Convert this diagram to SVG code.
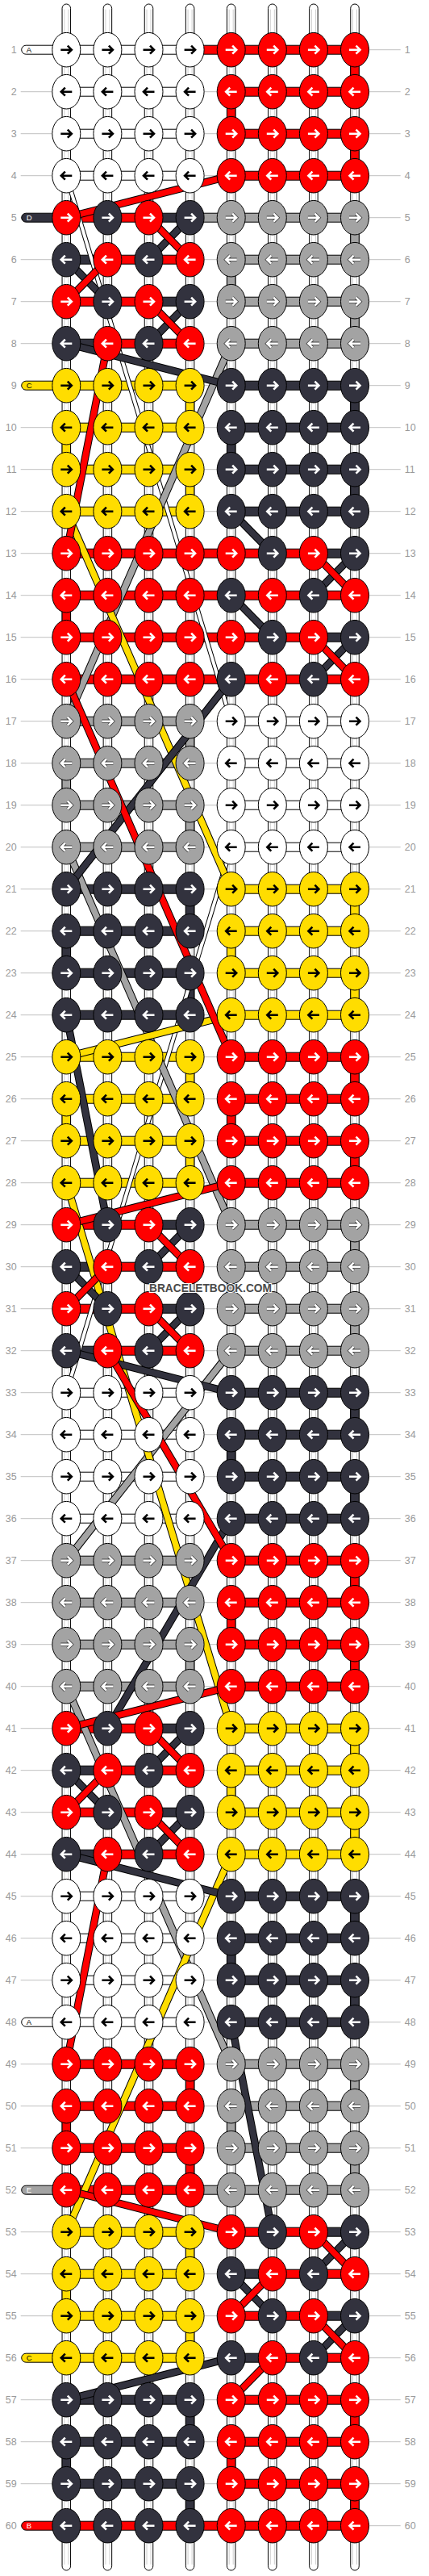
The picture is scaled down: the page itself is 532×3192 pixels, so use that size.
<svg xmlns="http://www.w3.org/2000/svg" xmlns:xlink="http://www.w3.org/1999/xlink" width="532" height="3192" viewBox="0 0 532 3192">
<style>
.o{stroke:#000;stroke-width:1}
.ab{fill:none;stroke:#000;stroke-width:2.6}
.aw{fill:none;stroke:#fff;stroke-width:2.6}
.ao{fill:none;stroke:#444;stroke-width:4.2}
.fR{fill:#f00}.fD{fill:#32323e}.fG{fill:#a3a3a3}.fY{fill:#fd0}.fW{fill:#fff}
.bk{fill:none;stroke:#000;stroke-width:9.5}
.bw{fill:none;stroke:#000;stroke-width:6}
.sR{fill:none;stroke:#f00;stroke-width:7.5}
.sD{fill:none;stroke:#32323e;stroke-width:7.5}
.sG{fill:none;stroke:#a3a3a3;stroke-width:7.5}
.sY{fill:none;stroke:#fd0;stroke-width:7.5}
.sW{fill:none;stroke:#fff;stroke-width:4}
.gl{fill:none;stroke:#c0c0c0;stroke-width:1}
.num{font-family:"Liberation Sans",Arial,sans-serif;font-size:12.5px;fill:#9a9a9a}
.nl{text-anchor:end}
.lt{font-family:"Liberation Sans",Arial,sans-serif;font-size:9.5px}
</style>
<defs>
<g id="vs"><rect x="-5.25" y="-4.7" width="10.5" height="3180" rx="5.25" fill="#fff" stroke="#000"/><path d="M-2.5 2V3168M2.5 2V3168" stroke="#cfcfcf" stroke-width="1"/></g>
<path id="ar" d="M-7 0H6M1.5-5 6.5 0 1.5 5"/>
<path id="al" d="M7 0H-6M-1.5-5-6.5 0-1.5 5"/>
<g id="W1"><ellipse class="o fW" rx="17.5" ry="21.3"/><use href="#ar" class="ab"/></g>
<g id="W2"><ellipse class="o fW" rx="17.5" ry="21.3"/><use href="#al" class="ab"/></g>
<g id="Y1"><ellipse class="o fY" rx="17.5" ry="21.3"/><use href="#ar" class="ab"/></g>
<g id="Y2"><ellipse class="o fY" rx="17.5" ry="21.3"/><use href="#al" class="ab"/></g>
<g id="R1"><ellipse class="o fR" rx="17.5" ry="21.3"/><use href="#ar" class="aw"/></g>
<g id="R2"><ellipse class="o fR" rx="17.5" ry="21.3"/><use href="#al" class="aw"/></g>
<g id="D1"><ellipse class="o fD" rx="17.5" ry="21.3"/><use href="#ar" class="aw"/></g>
<g id="D2"><ellipse class="o fD" rx="17.5" ry="21.3"/><use href="#al" class="aw"/></g>
<g id="G1"><ellipse class="o fG" rx="17.5" ry="21.3"/><use href="#ar" class="ao"/><use href="#ar" class="aw"/></g>
<g id="G2"><ellipse class="o fG" rx="17.5" ry="21.3"/><use href="#al" class="ao"/><use href="#al" class="aw"/></g>
<g id="pW"><path d="M51.1 208L255.5 884M255.5 1040L51.1 1716"/></g>
<g id="pG"><path d="M255.5 416L51.1 884M51.1 1040L255.5 1508M255.5 1664L51.1 1924M51.1 2080L255.5 2548"/></g>
<g id="pY"><path d="M51.1 624L255.5 1092M255.5 1248L51.1 1300M51.1 1456L255.5 2132M255.5 2288L51.1 2756"/></g>
<g id="pD"><path d="M51.1 416L255.5 468M255.5 624L306.6 676M255.5 832L51.1 1092M51.1 1248L102.2 1508M51.1 1664L255.5 1716M255.5 1872L102.2 2132M51.1 2288L255.5 2340M255.5 2496L306.6 2756M255.5 2912L51.1 2964M204.4 260L153.3 312M51.1 312L102.2 364M204.4 364L153.3 416M408.8 676L357.7 728M255.5 728L306.6 780M408.8 780L357.7 832M204.4 1508L153.3 1560M51.1 1560L102.2 1612M204.4 1612L153.3 1664M204.4 2132L153.3 2184M51.1 2184L102.2 2236M204.4 2236L153.3 2288M408.8 2756L357.7 2808M255.5 2808L306.6 2860M408.8 2860L357.7 2912"/></g>
<g id="pR"><path d="M255.5 208L51.1 260M102.2 416L51.1 676M51.1 832L255.5 1300M255.5 1456L51.1 1508M102.2 1664L255.5 1924M255.5 2080L51.1 2132M102.2 2288L51.1 2548M51.1 2704L255.5 2756M306.6 2912L255.5 2964M153.3 260L204.4 312M102.2 312L51.1 364M153.3 364L204.4 416M357.7 676L408.8 728M357.7 780L408.8 832M153.3 1508L204.4 1560M102.2 1560L51.1 1612M153.3 1612L204.4 1664M153.3 2132L204.4 2184M102.2 2184L51.1 2236M153.3 2236L204.4 2288M357.7 2756L408.8 2808M306.6 2808L255.5 2860M357.7 2860L408.8 2912"/></g>
</defs>
<rect width="532" height="3192" fill="#fff"/>
<g transform="translate(31.2,9.7)">
<path class="gl" d="M-5.5 52H465.5M-5.5 104H465.5M-5.5 156H465.5M-5.5 208H465.5M-5.5 260H465.5M-5.5 312H465.5M-5.5 364H465.5M-5.5 416H465.5M-5.5 468H465.5M-5.5 520H465.5M-5.5 572H465.5M-5.5 624H465.5M-5.5 676H465.5M-5.5 728H465.5M-5.5 780H465.5M-5.5 832H465.5M-5.5 884H465.5M-5.5 936H465.5M-5.5 988H465.5M-5.5 1040H465.5M-5.5 1092H465.5M-5.5 1144H465.5M-5.5 1196H465.5M-5.5 1248H465.5M-5.5 1300H465.5M-5.5 1352H465.5M-5.5 1404H465.5M-5.5 1456H465.5M-5.5 1508H465.5M-5.5 1560H465.5M-5.5 1612H465.5M-5.5 1664H465.5M-5.5 1716H465.5M-5.5 1768H465.5M-5.5 1820H465.5M-5.5 1872H465.5M-5.5 1924H465.5M-5.5 1976H465.5M-5.5 2028H465.5M-5.5 2080H465.5M-5.5 2132H465.5M-5.5 2184H465.5M-5.5 2236H465.5M-5.5 2288H465.5M-5.5 2340H465.5M-5.5 2392H465.5M-5.5 2444H465.5M-5.5 2496H465.5M-5.5 2548H465.5M-5.5 2600H465.5M-5.5 2652H465.5M-5.5 2704H465.5M-5.5 2756H465.5M-5.5 2808H465.5M-5.5 2860H465.5M-5.5 2912H465.5M-5.5 2964H465.5M-5.5 3016H465.5M-5.5 3068H465.5M-5.5 3120H465.5"/>
<g id="numbers" class="num">
<text class="nl" x="-10.5" y="56.6">1</text><text x="470.5" y="56.6">1</text>
<text class="nl" x="-10.5" y="108.6">2</text><text x="470.5" y="108.6">2</text>
<text class="nl" x="-10.5" y="160.6">3</text><text x="470.5" y="160.6">3</text>
<text class="nl" x="-10.5" y="212.6">4</text><text x="470.5" y="212.6">4</text>
<text class="nl" x="-10.5" y="264.6">5</text><text x="470.5" y="264.6">5</text>
<text class="nl" x="-10.5" y="316.6">6</text><text x="470.5" y="316.6">6</text>
<text class="nl" x="-10.5" y="368.6">7</text><text x="470.5" y="368.6">7</text>
<text class="nl" x="-10.5" y="420.6">8</text><text x="470.5" y="420.6">8</text>
<text class="nl" x="-10.5" y="472.6">9</text><text x="470.5" y="472.6">9</text>
<text class="nl" x="-10.5" y="524.6">10</text><text x="470.5" y="524.6">10</text>
<text class="nl" x="-10.5" y="576.6">11</text><text x="470.5" y="576.6">11</text>
<text class="nl" x="-10.5" y="628.6">12</text><text x="470.5" y="628.6">12</text>
<text class="nl" x="-10.5" y="680.6">13</text><text x="470.5" y="680.6">13</text>
<text class="nl" x="-10.5" y="732.6">14</text><text x="470.5" y="732.6">14</text>
<text class="nl" x="-10.5" y="784.6">15</text><text x="470.5" y="784.6">15</text>
<text class="nl" x="-10.5" y="836.6">16</text><text x="470.5" y="836.6">16</text>
<text class="nl" x="-10.5" y="888.6">17</text><text x="470.5" y="888.6">17</text>
<text class="nl" x="-10.5" y="940.6">18</text><text x="470.5" y="940.6">18</text>
<text class="nl" x="-10.5" y="992.6">19</text><text x="470.5" y="992.6">19</text>
<text class="nl" x="-10.5" y="1044.6">20</text><text x="470.5" y="1044.6">20</text>
<text class="nl" x="-10.5" y="1096.6">21</text><text x="470.5" y="1096.6">21</text>
<text class="nl" x="-10.5" y="1148.6">22</text><text x="470.5" y="1148.6">22</text>
<text class="nl" x="-10.5" y="1200.6">23</text><text x="470.5" y="1200.6">23</text>
<text class="nl" x="-10.5" y="1252.6">24</text><text x="470.5" y="1252.6">24</text>
<text class="nl" x="-10.5" y="1304.6">25</text><text x="470.5" y="1304.6">25</text>
<text class="nl" x="-10.5" y="1356.6">26</text><text x="470.5" y="1356.6">26</text>
<text class="nl" x="-10.5" y="1408.6">27</text><text x="470.5" y="1408.6">27</text>
<text class="nl" x="-10.5" y="1460.6">28</text><text x="470.5" y="1460.6">28</text>
<text class="nl" x="-10.5" y="1512.6">29</text><text x="470.5" y="1512.6">29</text>
<text class="nl" x="-10.5" y="1564.6">30</text><text x="470.5" y="1564.6">30</text>
<text class="nl" x="-10.5" y="1616.6">31</text><text x="470.5" y="1616.6">31</text>
<text class="nl" x="-10.5" y="1668.6">32</text><text x="470.5" y="1668.6">32</text>
<text class="nl" x="-10.5" y="1720.6">33</text><text x="470.5" y="1720.6">33</text>
<text class="nl" x="-10.5" y="1772.6">34</text><text x="470.5" y="1772.6">34</text>
<text class="nl" x="-10.5" y="1824.6">35</text><text x="470.5" y="1824.6">35</text>
<text class="nl" x="-10.5" y="1876.6">36</text><text x="470.5" y="1876.6">36</text>
<text class="nl" x="-10.5" y="1928.6">37</text><text x="470.5" y="1928.6">37</text>
<text class="nl" x="-10.5" y="1980.6">38</text><text x="470.5" y="1980.6">38</text>
<text class="nl" x="-10.5" y="2032.6">39</text><text x="470.5" y="2032.6">39</text>
<text class="nl" x="-10.5" y="2084.6">40</text><text x="470.5" y="2084.6">40</text>
<text class="nl" x="-10.5" y="2136.6">41</text><text x="470.5" y="2136.6">41</text>
<text class="nl" x="-10.5" y="2188.6">42</text><text x="470.5" y="2188.6">42</text>
<text class="nl" x="-10.5" y="2240.6">43</text><text x="470.5" y="2240.6">43</text>
<text class="nl" x="-10.5" y="2292.6">44</text><text x="470.5" y="2292.6">44</text>
<text class="nl" x="-10.5" y="2344.6">45</text><text x="470.5" y="2344.6">45</text>
<text class="nl" x="-10.5" y="2396.6">46</text><text x="470.5" y="2396.6">46</text>
<text class="nl" x="-10.5" y="2448.6">47</text><text x="470.5" y="2448.6">47</text>
<text class="nl" x="-10.5" y="2500.6">48</text><text x="470.5" y="2500.6">48</text>
<text class="nl" x="-10.5" y="2552.6">49</text><text x="470.5" y="2552.6">49</text>
<text class="nl" x="-10.5" y="2604.6">50</text><text x="470.5" y="2604.6">50</text>
<text class="nl" x="-10.5" y="2656.6">51</text><text x="470.5" y="2656.6">51</text>
<text class="nl" x="-10.5" y="2708.6">52</text><text x="470.5" y="2708.6">52</text>
<text class="nl" x="-10.5" y="2760.6">53</text><text x="470.5" y="2760.6">53</text>
<text class="nl" x="-10.5" y="2812.6">54</text><text x="470.5" y="2812.6">54</text>
<text class="nl" x="-10.5" y="2864.6">55</text><text x="470.5" y="2864.6">55</text>
<text class="nl" x="-10.5" y="2916.6">56</text><text x="470.5" y="2916.6">56</text>
<text class="nl" x="-10.5" y="2968.6">57</text><text x="470.5" y="2968.6">57</text>
<text class="nl" x="-10.5" y="3020.6">58</text><text x="470.5" y="3020.6">58</text>
<text class="nl" x="-10.5" y="3072.6">59</text><text x="470.5" y="3072.6">59</text>
<text class="nl" x="-10.5" y="3124.6">60</text><text x="470.5" y="3124.6">60</text>
</g>
<g id="connectors">
<g id="strings"><use href="#vs" x="51.1"/><use href="#vs" x="102.2"/><use href="#vs" x="153.3"/><use href="#vs" x="204.4"/><use href="#vs" x="255.5"/><use href="#vs" x="306.6"/><use href="#vs" x="357.7"/><use href="#vs" x="408.8"/></g>
<g id="vertical" class="o">
<rect class="fR" x="403.55" y="69" width="10.5" height="18"/><rect class="fR" x="250.25" y="121" width="10.5" height="18"/><rect class="fR" x="403.55" y="173" width="10.5" height="18"/>
<rect class="fG" x="403.55" y="277" width="10.5" height="18"/><rect class="fG" x="250.25" y="329" width="10.5" height="18"/><rect class="fG" x="403.55" y="381" width="10.5" height="18"/>
<rect class="fY" x="199.15" y="485" width="10.5" height="18"/><rect class="fY" x="45.85" y="537" width="10.5" height="18"/><rect class="fY" x="199.15" y="589" width="10.5" height="18"/>
<rect class="fD" x="403.55" y="485" width="10.5" height="18"/><rect class="fD" x="250.25" y="537" width="10.5" height="18"/><rect class="fD" x="403.55" y="589" width="10.5" height="18"/>
<rect class="fR" x="45.85" y="745" width="10.5" height="18"/>
<rect class="fG" x="199.15" y="901" width="10.5" height="18"/><rect class="fG" x="45.85" y="953" width="10.5" height="18"/><rect class="fG" x="199.15" y="1005" width="10.5" height="18"/>
<rect class="fD" x="199.15" y="1109" width="10.5" height="18"/><rect class="fD" x="45.85" y="1161" width="10.5" height="18"/><rect class="fD" x="199.15" y="1213" width="10.5" height="18"/>
<rect class="fY" x="403.55" y="1109" width="10.5" height="18"/><rect class="fY" x="250.25" y="1161" width="10.5" height="18"/><rect class="fY" x="403.55" y="1213" width="10.5" height="18"/>
<rect class="fY" x="199.15" y="1317" width="10.5" height="18"/><rect class="fY" x="45.85" y="1369" width="10.5" height="18"/><rect class="fY" x="199.15" y="1421" width="10.5" height="18"/>
<rect class="fR" x="403.55" y="1317" width="10.5" height="18"/><rect class="fR" x="250.25" y="1369" width="10.5" height="18"/><rect class="fR" x="403.55" y="1421" width="10.5" height="18"/>
<rect class="fG" x="403.55" y="1525" width="10.5" height="18"/><rect class="fG" x="250.25" y="1577" width="10.5" height="18"/><rect class="fG" x="403.55" y="1629" width="10.5" height="18"/>
<rect class="fD" x="403.55" y="1733" width="10.5" height="18"/><rect class="fD" x="250.25" y="1785" width="10.5" height="18"/><rect class="fD" x="403.55" y="1837" width="10.5" height="18"/>
<rect class="fG" x="199.15" y="2045" width="10.5" height="18"/>
<rect class="fR" x="403.55" y="1941" width="10.5" height="18"/><rect class="fR" x="250.25" y="1993" width="10.5" height="18"/><rect class="fR" x="403.55" y="2045" width="10.5" height="18"/>
<rect class="fY" x="403.55" y="2149" width="10.5" height="18"/><rect class="fY" x="250.25" y="2201" width="10.5" height="18"/><rect class="fY" x="403.55" y="2253" width="10.5" height="18"/>
<rect class="fD" x="403.55" y="2357" width="10.5" height="18"/><rect class="fD" x="250.25" y="2409" width="10.5" height="18"/><rect class="fD" x="403.55" y="2461" width="10.5" height="18"/>
<rect class="fR" x="199.15" y="2565" width="10.5" height="18"/><rect class="fR" x="45.85" y="2617" width="10.5" height="18"/><rect class="fR" x="199.15" y="2669" width="10.5" height="18"/>
<rect class="fG" x="403.55" y="2565" width="10.5" height="18"/><rect class="fG" x="250.25" y="2617" width="10.5" height="18"/><rect class="fG" x="403.55" y="2669" width="10.5" height="18"/>
<rect class="fY" x="199.15" y="2773" width="10.5" height="18"/><rect class="fY" x="45.85" y="2825" width="10.5" height="18"/><rect class="fY" x="199.15" y="2877" width="10.5" height="18"/>
<rect class="fD" x="199.15" y="2981" width="10.5" height="18"/><rect class="fD" x="45.85" y="3033" width="10.5" height="18"/><rect class="fD" x="199.15" y="3085" width="10.5" height="18"/>
<rect class="fR" x="403.55" y="2981" width="10.5" height="18"/><rect class="fR" x="250.25" y="3033" width="10.5" height="18"/><rect class="fR" x="403.55" y="3085" width="10.5" height="18"/>
</g>
<g id="labels" class="o">
<rect class="fW" x="-4.5" y="46.5" width="52" height="11" rx="5.5"/>
<rect class="fD" x="-4.5" y="254.5" width="52" height="11" rx="5.5"/>
<rect class="fY" x="-4.5" y="462.5" width="52" height="11" rx="5.5"/>
<rect class="fW" x="-4.5" y="2490.5" width="52" height="11" rx="5.5"/>
<rect class="fG" x="-4.5" y="2698.5" width="52" height="11" rx="5.5"/>
<rect class="fY" x="-4.5" y="2906.5" width="52" height="11" rx="5.5"/>
<rect class="fR" x="-4.5" y="3114.5" width="52" height="11" rx="5.5"/>
</g>
<g class="lt">
<text x="1.5" y="55.5">A</text>
<text x="1.5" y="263.5" fill="#fff">D</text>
<text x="1.5" y="471.5">C</text>
<text x="1.5" y="2499.5">A</text>
<text x="1.5" y="2707.5" fill="#fff">E</text>
<text x="1.5" y="2915.5">C</text>
<text x="1.5" y="3123.5" fill="#fff">B</text>
</g>
<g id="horizontal" class="o">
<rect class="fW" x="51.1" y="46.5" width="153.3" height="11"/><rect class="fR" x="204.4" y="46.5" width="204.4" height="11"/>
<rect class="fW" x="51.1" y="98.5" width="153.3" height="11"/><rect class="fR" x="255.5" y="98.5" width="153.3" height="11"/>
<rect class="fW" x="51.1" y="150.5" width="153.3" height="11"/><rect class="fR" x="255.5" y="150.5" width="153.3" height="11"/>
<rect class="fW" x="51.1" y="202.5" width="153.3" height="11"/><rect class="fR" x="255.5" y="202.5" width="153.3" height="11"/>
<rect class="fR" x="51.1" y="254.5" width="102.2" height="11"/><rect class="fD" x="153.3" y="254.5" width="51.1" height="11"/><rect class="fG" x="204.4" y="254.5" width="204.4" height="11"/>
<rect class="fD" x="51.1" y="306.5" width="51.1" height="11"/><rect class="fR" x="102.2" y="306.5" width="102.2" height="11"/><rect class="fG" x="255.5" y="306.5" width="153.3" height="11"/>
<rect class="fR" x="51.1" y="358.5" width="102.2" height="11"/><rect class="fD" x="153.3" y="358.5" width="51.1" height="11"/><rect class="fG" x="255.5" y="358.5" width="153.3" height="11"/>
<rect class="fD" x="51.1" y="410.5" width="51.1" height="11"/><rect class="fR" x="102.2" y="410.5" width="102.2" height="11"/><rect class="fG" x="255.5" y="410.5" width="153.3" height="11"/>
<rect class="fY" x="51.1" y="462.5" width="153.3" height="11"/><rect class="fD" x="255.5" y="462.5" width="153.3" height="11"/>
<rect class="fY" x="51.1" y="514.5" width="153.3" height="11"/><rect class="fD" x="255.5" y="514.5" width="153.3" height="11"/>
<rect class="fY" x="51.1" y="566.5" width="153.3" height="11"/><rect class="fD" x="255.5" y="566.5" width="153.3" height="11"/>
<rect class="fY" x="51.1" y="618.5" width="153.3" height="11"/><rect class="fD" x="255.5" y="618.5" width="153.3" height="11"/>
<rect class="fR" x="51.1" y="670.5" width="306.6" height="11"/><rect class="fD" x="357.7" y="670.5" width="51.1" height="11"/>
<rect class="fR" x="51.1" y="722.5" width="357.7" height="11"/>
<rect class="fR" x="51.1" y="774.5" width="306.6" height="11"/><rect class="fD" x="357.7" y="774.5" width="51.1" height="11"/>
<rect class="fR" x="51.1" y="826.5" width="357.7" height="11"/>
<rect class="fG" x="51.1" y="878.5" width="153.3" height="11"/><rect class="fW" x="255.5" y="878.5" width="153.3" height="11"/>
<rect class="fG" x="51.1" y="930.5" width="153.3" height="11"/><rect class="fW" x="255.5" y="930.5" width="153.3" height="11"/>
<rect class="fG" x="51.1" y="982.5" width="153.3" height="11"/><rect class="fW" x="255.5" y="982.5" width="153.3" height="11"/>
<rect class="fG" x="51.1" y="1034.5" width="153.3" height="11"/><rect class="fW" x="255.5" y="1034.5" width="153.3" height="11"/>
<rect class="fD" x="51.1" y="1086.5" width="153.3" height="11"/><rect class="fY" x="255.5" y="1086.5" width="153.3" height="11"/>
<rect class="fD" x="51.1" y="1138.5" width="153.3" height="11"/><rect class="fY" x="255.5" y="1138.5" width="153.3" height="11"/>
<rect class="fD" x="51.1" y="1190.5" width="153.3" height="11"/><rect class="fY" x="255.5" y="1190.5" width="153.3" height="11"/>
<rect class="fD" x="51.1" y="1242.5" width="153.3" height="11"/><rect class="fY" x="255.5" y="1242.5" width="153.3" height="11"/>
<rect class="fY" x="51.1" y="1294.5" width="153.3" height="11"/><rect class="fR" x="255.5" y="1294.5" width="153.3" height="11"/>
<rect class="fY" x="51.1" y="1346.5" width="153.3" height="11"/><rect class="fR" x="255.5" y="1346.5" width="153.3" height="11"/>
<rect class="fY" x="51.1" y="1398.5" width="153.3" height="11"/><rect class="fR" x="255.5" y="1398.5" width="153.3" height="11"/>
<rect class="fY" x="51.1" y="1450.5" width="153.3" height="11"/><rect class="fR" x="255.5" y="1450.5" width="153.3" height="11"/>
<rect class="fR" x="51.1" y="1502.5" width="102.2" height="11"/><rect class="fD" x="153.3" y="1502.5" width="51.1" height="11"/><rect class="fG" x="255.5" y="1502.5" width="153.3" height="11"/>
<rect class="fD" x="51.1" y="1554.5" width="51.1" height="11"/><rect class="fR" x="102.2" y="1554.5" width="102.2" height="11"/><rect class="fG" x="255.5" y="1554.5" width="153.3" height="11"/>
<rect class="fR" x="51.1" y="1606.5" width="102.2" height="11"/><rect class="fD" x="153.3" y="1606.5" width="51.1" height="11"/><rect class="fG" x="255.5" y="1606.5" width="153.3" height="11"/>
<rect class="fD" x="51.1" y="1658.5" width="51.1" height="11"/><rect class="fR" x="102.2" y="1658.5" width="102.2" height="11"/><rect class="fG" x="255.5" y="1658.5" width="153.3" height="11"/>
<rect class="fW" x="51.1" y="1710.5" width="153.3" height="11"/><rect class="fD" x="255.5" y="1710.5" width="153.3" height="11"/>
<rect class="fW" x="51.1" y="1762.5" width="153.3" height="11"/><rect class="fD" x="255.5" y="1762.5" width="153.3" height="11"/>
<rect class="fW" x="51.1" y="1814.5" width="153.3" height="11"/><rect class="fD" x="255.5" y="1814.5" width="153.3" height="11"/>
<rect class="fW" x="51.1" y="1866.5" width="153.3" height="11"/><rect class="fD" x="255.5" y="1866.5" width="153.3" height="11"/>
<rect class="fG" x="51.1" y="1918.5" width="153.3" height="11"/><rect class="fR" x="255.5" y="1918.5" width="153.3" height="11"/>
<rect class="fG" x="51.1" y="1970.5" width="153.3" height="11"/><rect class="fR" x="255.5" y="1970.5" width="153.3" height="11"/>
<rect class="fG" x="51.1" y="2022.5" width="153.3" height="11"/><rect class="fR" x="255.5" y="2022.5" width="153.3" height="11"/>
<rect class="fG" x="51.1" y="2074.5" width="153.3" height="11"/><rect class="fR" x="255.5" y="2074.5" width="153.3" height="11"/>
<rect class="fR" x="51.1" y="2126.5" width="102.2" height="11"/><rect class="fD" x="153.3" y="2126.5" width="51.1" height="11"/><rect class="fY" x="255.5" y="2126.5" width="153.3" height="11"/>
<rect class="fD" x="51.1" y="2178.5" width="51.1" height="11"/><rect class="fR" x="102.2" y="2178.5" width="102.2" height="11"/><rect class="fY" x="255.5" y="2178.5" width="153.3" height="11"/>
<rect class="fR" x="51.1" y="2230.5" width="102.2" height="11"/><rect class="fD" x="153.3" y="2230.5" width="51.1" height="11"/><rect class="fY" x="255.5" y="2230.5" width="153.3" height="11"/>
<rect class="fD" x="51.1" y="2282.5" width="51.1" height="11"/><rect class="fR" x="102.2" y="2282.5" width="102.2" height="11"/><rect class="fY" x="255.5" y="2282.5" width="153.3" height="11"/>
<rect class="fW" x="51.1" y="2334.5" width="153.3" height="11"/><rect class="fD" x="255.5" y="2334.5" width="153.3" height="11"/>
<rect class="fW" x="51.1" y="2386.5" width="153.3" height="11"/><rect class="fD" x="255.5" y="2386.5" width="153.3" height="11"/>
<rect class="fW" x="51.1" y="2438.5" width="153.3" height="11"/><rect class="fD" x="255.5" y="2438.5" width="153.3" height="11"/>
<rect class="fW" x="51.1" y="2490.5" width="153.3" height="11"/><rect class="fD" x="255.5" y="2490.5" width="153.3" height="11"/>
<rect class="fR" x="51.1" y="2542.5" width="153.3" height="11"/><rect class="fG" x="255.5" y="2542.5" width="153.3" height="11"/>
<rect class="fR" x="51.1" y="2594.5" width="153.3" height="11"/><rect class="fG" x="255.5" y="2594.5" width="153.3" height="11"/>
<rect class="fR" x="51.1" y="2646.5" width="153.3" height="11"/><rect class="fG" x="255.5" y="2646.5" width="153.3" height="11"/>
<rect class="fR" x="51.1" y="2698.5" width="153.3" height="11"/><rect class="fG" x="204.4" y="2698.5" width="204.4" height="11"/>
<rect class="fY" x="51.1" y="2750.5" width="153.3" height="11"/><rect class="fR" x="255.5" y="2750.5" width="102.2" height="11"/><rect class="fD" x="357.7" y="2750.5" width="51.1" height="11"/>
<rect class="fY" x="51.1" y="2802.5" width="153.3" height="11"/><rect class="fD" x="255.5" y="2802.5" width="51.1" height="11"/><rect class="fR" x="306.6" y="2802.5" width="102.2" height="11"/>
<rect class="fY" x="51.1" y="2854.5" width="153.3" height="11"/><rect class="fR" x="255.5" y="2854.5" width="102.2" height="11"/><rect class="fD" x="357.7" y="2854.5" width="51.1" height="11"/>
<rect class="fY" x="51.1" y="2906.5" width="153.3" height="11"/><rect class="fD" x="255.5" y="2906.5" width="51.1" height="11"/><rect class="fR" x="306.6" y="2906.5" width="102.2" height="11"/>
<rect class="fD" x="51.1" y="2958.5" width="153.3" height="11"/><rect class="fR" x="255.5" y="2958.5" width="153.3" height="11"/>
<rect class="fD" x="51.1" y="3010.5" width="153.3" height="11"/><rect class="fR" x="255.5" y="3010.5" width="153.3" height="11"/>
<rect class="fD" x="51.1" y="3062.5" width="153.3" height="11"/><rect class="fR" x="255.5" y="3062.5" width="153.3" height="11"/>
<rect class="fR" x="51.1" y="3114.5" width="357.7" height="11"/>
</g>
<g id="diagonals">
<use href="#pW" class="bw"/><use href="#pW" class="sW"/>
<use href="#pG" class="bk"/><use href="#pG" class="sG"/>
<use href="#pY" class="bk"/><use href="#pY" class="sY"/>
<use href="#pD" class="bk"/><use href="#pD" class="sD"/>
<use href="#pR" class="bk"/><use href="#pR" class="sR"/>
</g>
</g>
<g id="knots">
<g id="row1" transform="translate(0,52)"><g id="n1-1"><use href="#W1" x="51.1"/></g><g id="n1-2"><use href="#W1" x="102.2"/></g><g id="n1-3"><use href="#W1" x="153.3"/></g><g id="n1-4"><use href="#W1" x="204.4"/></g><g id="n1-5"><use href="#R1" x="255.5"/></g><g id="n1-6"><use href="#R1" x="306.6"/></g><g id="n1-7"><use href="#R1" x="357.7"/></g><g id="n1-8"><use href="#R1" x="408.8"/></g></g>
<g id="row2" transform="translate(0,104)"><g id="n2-1"><use href="#W2" x="51.1"/></g><g id="n2-2"><use href="#W2" x="102.2"/></g><g id="n2-3"><use href="#W2" x="153.3"/></g><g id="n2-4"><use href="#W2" x="204.4"/></g><g id="n2-5"><use href="#R2" x="255.5"/></g><g id="n2-6"><use href="#R2" x="306.6"/></g><g id="n2-7"><use href="#R2" x="357.7"/></g><g id="n2-8"><use href="#R2" x="408.8"/></g></g>
<g id="row3" transform="translate(0,156)"><g id="n3-1"><use href="#W1" x="51.1"/></g><g id="n3-2"><use href="#W1" x="102.2"/></g><g id="n3-3"><use href="#W1" x="153.3"/></g><g id="n3-4"><use href="#W1" x="204.4"/></g><g id="n3-5"><use href="#R1" x="255.5"/></g><g id="n3-6"><use href="#R1" x="306.6"/></g><g id="n3-7"><use href="#R1" x="357.7"/></g><g id="n3-8"><use href="#R1" x="408.8"/></g></g>
<g id="row4" transform="translate(0,208)"><g id="n4-1"><use href="#W2" x="51.1"/></g><g id="n4-2"><use href="#W2" x="102.2"/></g><g id="n4-3"><use href="#W2" x="153.3"/></g><g id="n4-4"><use href="#W2" x="204.4"/></g><g id="n4-5"><use href="#R2" x="255.5"/></g><g id="n4-6"><use href="#R2" x="306.6"/></g><g id="n4-7"><use href="#R2" x="357.7"/></g><g id="n4-8"><use href="#R2" x="408.8"/></g></g>
<g id="row5" transform="translate(0,260)"><g id="n5-1"><use href="#R1" x="51.1"/></g><g id="n5-2"><use href="#D1" x="102.2"/></g><g id="n5-3"><use href="#R1" x="153.3"/></g><g id="n5-4"><use href="#D1" x="204.4"/></g><g id="n5-5"><use href="#G1" x="255.5"/></g><g id="n5-6"><use href="#G1" x="306.6"/></g><g id="n5-7"><use href="#G1" x="357.7"/></g><g id="n5-8"><use href="#G1" x="408.8"/></g></g>
<g id="row6" transform="translate(0,312)"><g id="n6-1"><use href="#D2" x="51.1"/></g><g id="n6-2"><use href="#R2" x="102.2"/></g><g id="n6-3"><use href="#D2" x="153.3"/></g><g id="n6-4"><use href="#R2" x="204.4"/></g><g id="n6-5"><use href="#G2" x="255.5"/></g><g id="n6-6"><use href="#G2" x="306.6"/></g><g id="n6-7"><use href="#G2" x="357.7"/></g><g id="n6-8"><use href="#G2" x="408.8"/></g></g>
<g id="row7" transform="translate(0,364)"><g id="n7-1"><use href="#R1" x="51.1"/></g><g id="n7-2"><use href="#D1" x="102.2"/></g><g id="n7-3"><use href="#R1" x="153.3"/></g><g id="n7-4"><use href="#D1" x="204.4"/></g><g id="n7-5"><use href="#G1" x="255.5"/></g><g id="n7-6"><use href="#G1" x="306.6"/></g><g id="n7-7"><use href="#G1" x="357.7"/></g><g id="n7-8"><use href="#G1" x="408.8"/></g></g>
<g id="row8" transform="translate(0,416)"><g id="n8-1"><use href="#D2" x="51.1"/></g><g id="n8-2"><use href="#R2" x="102.2"/></g><g id="n8-3"><use href="#D2" x="153.3"/></g><g id="n8-4"><use href="#R2" x="204.4"/></g><g id="n8-5"><use href="#G2" x="255.5"/></g><g id="n8-6"><use href="#G2" x="306.6"/></g><g id="n8-7"><use href="#G2" x="357.7"/></g><g id="n8-8"><use href="#G2" x="408.8"/></g></g>
<g id="row9" transform="translate(0,468)"><g id="n9-1"><use href="#Y1" x="51.1"/></g><g id="n9-2"><use href="#Y1" x="102.2"/></g><g id="n9-3"><use href="#Y1" x="153.3"/></g><g id="n9-4"><use href="#Y1" x="204.4"/></g><g id="n9-5"><use href="#D1" x="255.5"/></g><g id="n9-6"><use href="#D1" x="306.6"/></g><g id="n9-7"><use href="#D1" x="357.7"/></g><g id="n9-8"><use href="#D1" x="408.8"/></g></g>
<g id="row10" transform="translate(0,520)"><g id="n10-1"><use href="#Y2" x="51.1"/></g><g id="n10-2"><use href="#Y2" x="102.2"/></g><g id="n10-3"><use href="#Y2" x="153.3"/></g><g id="n10-4"><use href="#Y2" x="204.4"/></g><g id="n10-5"><use href="#D2" x="255.5"/></g><g id="n10-6"><use href="#D2" x="306.6"/></g><g id="n10-7"><use href="#D2" x="357.7"/></g><g id="n10-8"><use href="#D2" x="408.8"/></g></g>
<g id="row11" transform="translate(0,572)"><g id="n11-1"><use href="#Y1" x="51.1"/></g><g id="n11-2"><use href="#Y1" x="102.2"/></g><g id="n11-3"><use href="#Y1" x="153.3"/></g><g id="n11-4"><use href="#Y1" x="204.4"/></g><g id="n11-5"><use href="#D1" x="255.5"/></g><g id="n11-6"><use href="#D1" x="306.6"/></g><g id="n11-7"><use href="#D1" x="357.7"/></g><g id="n11-8"><use href="#D1" x="408.8"/></g></g>
<g id="row12" transform="translate(0,624)"><g id="n12-1"><use href="#Y2" x="51.1"/></g><g id="n12-2"><use href="#Y2" x="102.2"/></g><g id="n12-3"><use href="#Y2" x="153.3"/></g><g id="n12-4"><use href="#Y2" x="204.4"/></g><g id="n12-5"><use href="#D2" x="255.5"/></g><g id="n12-6"><use href="#D2" x="306.6"/></g><g id="n12-7"><use href="#D2" x="357.7"/></g><g id="n12-8"><use href="#D2" x="408.8"/></g></g>
<g id="row13" transform="translate(0,676)"><g id="n13-1"><use href="#R1" x="51.1"/></g><g id="n13-2"><use href="#R1" x="102.2"/></g><g id="n13-3"><use href="#R1" x="153.3"/></g><g id="n13-4"><use href="#R1" x="204.4"/></g><g id="n13-5"><use href="#R1" x="255.5"/></g><g id="n13-6"><use href="#D1" x="306.6"/></g><g id="n13-7"><use href="#R1" x="357.7"/></g><g id="n13-8"><use href="#D1" x="408.8"/></g></g>
<g id="row14" transform="translate(0,728)"><g id="n14-1"><use href="#R2" x="51.1"/></g><g id="n14-2"><use href="#R2" x="102.2"/></g><g id="n14-3"><use href="#R2" x="153.3"/></g><g id="n14-4"><use href="#R2" x="204.4"/></g><g id="n14-5"><use href="#D2" x="255.5"/></g><g id="n14-6"><use href="#R2" x="306.6"/></g><g id="n14-7"><use href="#D2" x="357.7"/></g><g id="n14-8"><use href="#R2" x="408.8"/></g></g>
<g id="row15" transform="translate(0,780)"><g id="n15-1"><use href="#R1" x="51.1"/></g><g id="n15-2"><use href="#R1" x="102.2"/></g><g id="n15-3"><use href="#R1" x="153.3"/></g><g id="n15-4"><use href="#R1" x="204.4"/></g><g id="n15-5"><use href="#R1" x="255.5"/></g><g id="n15-6"><use href="#D1" x="306.6"/></g><g id="n15-7"><use href="#R1" x="357.7"/></g><g id="n15-8"><use href="#D1" x="408.8"/></g></g>
<g id="row16" transform="translate(0,832)"><g id="n16-1"><use href="#R2" x="51.1"/></g><g id="n16-2"><use href="#R2" x="102.2"/></g><g id="n16-3"><use href="#R2" x="153.3"/></g><g id="n16-4"><use href="#R2" x="204.4"/></g><g id="n16-5"><use href="#D2" x="255.5"/></g><g id="n16-6"><use href="#R2" x="306.6"/></g><g id="n16-7"><use href="#D2" x="357.7"/></g><g id="n16-8"><use href="#R2" x="408.8"/></g></g>
<g id="row17" transform="translate(0,884)"><g id="n17-1"><use href="#G1" x="51.1"/></g><g id="n17-2"><use href="#G1" x="102.2"/></g><g id="n17-3"><use href="#G1" x="153.3"/></g><g id="n17-4"><use href="#G1" x="204.4"/></g><g id="n17-5"><use href="#W1" x="255.5"/></g><g id="n17-6"><use href="#W1" x="306.6"/></g><g id="n17-7"><use href="#W1" x="357.7"/></g><g id="n17-8"><use href="#W1" x="408.8"/></g></g>
<g id="row18" transform="translate(0,936)"><g id="n18-1"><use href="#G2" x="51.1"/></g><g id="n18-2"><use href="#G2" x="102.2"/></g><g id="n18-3"><use href="#G2" x="153.3"/></g><g id="n18-4"><use href="#G2" x="204.4"/></g><g id="n18-5"><use href="#W2" x="255.5"/></g><g id="n18-6"><use href="#W2" x="306.6"/></g><g id="n18-7"><use href="#W2" x="357.7"/></g><g id="n18-8"><use href="#W2" x="408.8"/></g></g>
<g id="row19" transform="translate(0,988)"><g id="n19-1"><use href="#G1" x="51.1"/></g><g id="n19-2"><use href="#G1" x="102.2"/></g><g id="n19-3"><use href="#G1" x="153.3"/></g><g id="n19-4"><use href="#G1" x="204.4"/></g><g id="n19-5"><use href="#W1" x="255.5"/></g><g id="n19-6"><use href="#W1" x="306.6"/></g><g id="n19-7"><use href="#W1" x="357.7"/></g><g id="n19-8"><use href="#W1" x="408.8"/></g></g>
<g id="row20" transform="translate(0,1040)"><g id="n20-1"><use href="#G2" x="51.1"/></g><g id="n20-2"><use href="#G2" x="102.2"/></g><g id="n20-3"><use href="#G2" x="153.3"/></g><g id="n20-4"><use href="#G2" x="204.4"/></g><g id="n20-5"><use href="#W2" x="255.5"/></g><g id="n20-6"><use href="#W2" x="306.6"/></g><g id="n20-7"><use href="#W2" x="357.7"/></g><g id="n20-8"><use href="#W2" x="408.8"/></g></g>
<g id="row21" transform="translate(0,1092)"><g id="n21-1"><use href="#D1" x="51.1"/></g><g id="n21-2"><use href="#D1" x="102.2"/></g><g id="n21-3"><use href="#D1" x="153.3"/></g><g id="n21-4"><use href="#D1" x="204.4"/></g><g id="n21-5"><use href="#Y1" x="255.5"/></g><g id="n21-6"><use href="#Y1" x="306.6"/></g><g id="n21-7"><use href="#Y1" x="357.7"/></g><g id="n21-8"><use href="#Y1" x="408.8"/></g></g>
<g id="row22" transform="translate(0,1144)"><g id="n22-1"><use href="#D2" x="51.1"/></g><g id="n22-2"><use href="#D2" x="102.2"/></g><g id="n22-3"><use href="#D2" x="153.3"/></g><g id="n22-4"><use href="#D2" x="204.4"/></g><g id="n22-5"><use href="#Y2" x="255.5"/></g><g id="n22-6"><use href="#Y2" x="306.6"/></g><g id="n22-7"><use href="#Y2" x="357.7"/></g><g id="n22-8"><use href="#Y2" x="408.8"/></g></g>
<g id="row23" transform="translate(0,1196)"><g id="n23-1"><use href="#D1" x="51.1"/></g><g id="n23-2"><use href="#D1" x="102.2"/></g><g id="n23-3"><use href="#D1" x="153.3"/></g><g id="n23-4"><use href="#D1" x="204.4"/></g><g id="n23-5"><use href="#Y1" x="255.5"/></g><g id="n23-6"><use href="#Y1" x="306.6"/></g><g id="n23-7"><use href="#Y1" x="357.7"/></g><g id="n23-8"><use href="#Y1" x="408.8"/></g></g>
<g id="row24" transform="translate(0,1248)"><g id="n24-1"><use href="#D2" x="51.1"/></g><g id="n24-2"><use href="#D2" x="102.2"/></g><g id="n24-3"><use href="#D2" x="153.3"/></g><g id="n24-4"><use href="#D2" x="204.4"/></g><g id="n24-5"><use href="#Y2" x="255.5"/></g><g id="n24-6"><use href="#Y2" x="306.6"/></g><g id="n24-7"><use href="#Y2" x="357.7"/></g><g id="n24-8"><use href="#Y2" x="408.8"/></g></g>
<g id="row25" transform="translate(0,1300)"><g id="n25-1"><use href="#Y1" x="51.1"/></g><g id="n25-2"><use href="#Y1" x="102.2"/></g><g id="n25-3"><use href="#Y1" x="153.3"/></g><g id="n25-4"><use href="#Y1" x="204.4"/></g><g id="n25-5"><use href="#R1" x="255.5"/></g><g id="n25-6"><use href="#R1" x="306.6"/></g><g id="n25-7"><use href="#R1" x="357.7"/></g><g id="n25-8"><use href="#R1" x="408.8"/></g></g>
<g id="row26" transform="translate(0,1352)"><g id="n26-1"><use href="#Y2" x="51.1"/></g><g id="n26-2"><use href="#Y2" x="102.2"/></g><g id="n26-3"><use href="#Y2" x="153.3"/></g><g id="n26-4"><use href="#Y2" x="204.4"/></g><g id="n26-5"><use href="#R2" x="255.5"/></g><g id="n26-6"><use href="#R2" x="306.6"/></g><g id="n26-7"><use href="#R2" x="357.7"/></g><g id="n26-8"><use href="#R2" x="408.8"/></g></g>
<g id="row27" transform="translate(0,1404)"><g id="n27-1"><use href="#Y1" x="51.1"/></g><g id="n27-2"><use href="#Y1" x="102.2"/></g><g id="n27-3"><use href="#Y1" x="153.3"/></g><g id="n27-4"><use href="#Y1" x="204.4"/></g><g id="n27-5"><use href="#R1" x="255.5"/></g><g id="n27-6"><use href="#R1" x="306.6"/></g><g id="n27-7"><use href="#R1" x="357.7"/></g><g id="n27-8"><use href="#R1" x="408.8"/></g></g>
<g id="row28" transform="translate(0,1456)"><g id="n28-1"><use href="#Y2" x="51.1"/></g><g id="n28-2"><use href="#Y2" x="102.2"/></g><g id="n28-3"><use href="#Y2" x="153.3"/></g><g id="n28-4"><use href="#Y2" x="204.4"/></g><g id="n28-5"><use href="#R2" x="255.5"/></g><g id="n28-6"><use href="#R2" x="306.6"/></g><g id="n28-7"><use href="#R2" x="357.7"/></g><g id="n28-8"><use href="#R2" x="408.8"/></g></g>
<g id="row29" transform="translate(0,1508)"><g id="n29-1"><use href="#R1" x="51.1"/></g><g id="n29-2"><use href="#D1" x="102.2"/></g><g id="n29-3"><use href="#R1" x="153.3"/></g><g id="n29-4"><use href="#D1" x="204.4"/></g><g id="n29-5"><use href="#G1" x="255.5"/></g><g id="n29-6"><use href="#G1" x="306.6"/></g><g id="n29-7"><use href="#G1" x="357.7"/></g><g id="n29-8"><use href="#G1" x="408.8"/></g></g>
<g id="row30" transform="translate(0,1560)"><g id="n30-1"><use href="#D2" x="51.1"/></g><g id="n30-2"><use href="#R2" x="102.2"/></g><g id="n30-3"><use href="#D2" x="153.3"/></g><g id="n30-4"><use href="#R2" x="204.4"/></g><g id="n30-5"><use href="#G2" x="255.5"/></g><g id="n30-6"><use href="#G2" x="306.6"/></g><g id="n30-7"><use href="#G2" x="357.7"/></g><g id="n30-8"><use href="#G2" x="408.8"/></g></g>
<g id="row31" transform="translate(0,1612)"><g id="n31-1"><use href="#R1" x="51.1"/></g><g id="n31-2"><use href="#D1" x="102.2"/></g><g id="n31-3"><use href="#R1" x="153.3"/></g><g id="n31-4"><use href="#D1" x="204.4"/></g><g id="n31-5"><use href="#G1" x="255.5"/></g><g id="n31-6"><use href="#G1" x="306.6"/></g><g id="n31-7"><use href="#G1" x="357.7"/></g><g id="n31-8"><use href="#G1" x="408.8"/></g></g>
<g id="row32" transform="translate(0,1664)"><g id="n32-1"><use href="#D2" x="51.1"/></g><g id="n32-2"><use href="#R2" x="102.2"/></g><g id="n32-3"><use href="#D2" x="153.3"/></g><g id="n32-4"><use href="#R2" x="204.4"/></g><g id="n32-5"><use href="#G2" x="255.5"/></g><g id="n32-6"><use href="#G2" x="306.6"/></g><g id="n32-7"><use href="#G2" x="357.7"/></g><g id="n32-8"><use href="#G2" x="408.8"/></g></g>
<g id="row33" transform="translate(0,1716)"><g id="n33-1"><use href="#W1" x="51.1"/></g><g id="n33-2"><use href="#W1" x="102.2"/></g><g id="n33-3"><use href="#W1" x="153.3"/></g><g id="n33-4"><use href="#W1" x="204.4"/></g><g id="n33-5"><use href="#D1" x="255.5"/></g><g id="n33-6"><use href="#D1" x="306.6"/></g><g id="n33-7"><use href="#D1" x="357.7"/></g><g id="n33-8"><use href="#D1" x="408.8"/></g></g>
<g id="row34" transform="translate(0,1768)"><g id="n34-1"><use href="#W2" x="51.1"/></g><g id="n34-2"><use href="#W2" x="102.2"/></g><g id="n34-3"><use href="#W2" x="153.3"/></g><g id="n34-4"><use href="#W2" x="204.4"/></g><g id="n34-5"><use href="#D2" x="255.5"/></g><g id="n34-6"><use href="#D2" x="306.6"/></g><g id="n34-7"><use href="#D2" x="357.7"/></g><g id="n34-8"><use href="#D2" x="408.8"/></g></g>
<g id="row35" transform="translate(0,1820)"><g id="n35-1"><use href="#W1" x="51.1"/></g><g id="n35-2"><use href="#W1" x="102.2"/></g><g id="n35-3"><use href="#W1" x="153.3"/></g><g id="n35-4"><use href="#W1" x="204.4"/></g><g id="n35-5"><use href="#D1" x="255.5"/></g><g id="n35-6"><use href="#D1" x="306.6"/></g><g id="n35-7"><use href="#D1" x="357.7"/></g><g id="n35-8"><use href="#D1" x="408.8"/></g></g>
<g id="row36" transform="translate(0,1872)"><g id="n36-1"><use href="#W2" x="51.1"/></g><g id="n36-2"><use href="#W2" x="102.2"/></g><g id="n36-3"><use href="#W2" x="153.3"/></g><g id="n36-4"><use href="#W2" x="204.4"/></g><g id="n36-5"><use href="#D2" x="255.5"/></g><g id="n36-6"><use href="#D2" x="306.6"/></g><g id="n36-7"><use href="#D2" x="357.7"/></g><g id="n36-8"><use href="#D2" x="408.8"/></g></g>
<g id="row37" transform="translate(0,1924)"><g id="n37-1"><use href="#G1" x="51.1"/></g><g id="n37-2"><use href="#G1" x="102.2"/></g><g id="n37-3"><use href="#G1" x="153.3"/></g><g id="n37-4"><use href="#G1" x="204.4"/></g><g id="n37-5"><use href="#R1" x="255.5"/></g><g id="n37-6"><use href="#R1" x="306.6"/></g><g id="n37-7"><use href="#R1" x="357.7"/></g><g id="n37-8"><use href="#R1" x="408.8"/></g></g>
<g id="row38" transform="translate(0,1976)"><g id="n38-1"><use href="#G2" x="51.1"/></g><g id="n38-2"><use href="#G2" x="102.2"/></g><g id="n38-3"><use href="#G2" x="153.3"/></g><g id="n38-4"><use href="#G2" x="204.4"/></g><g id="n38-5"><use href="#R2" x="255.5"/></g><g id="n38-6"><use href="#R2" x="306.6"/></g><g id="n38-7"><use href="#R2" x="357.7"/></g><g id="n38-8"><use href="#R2" x="408.8"/></g></g>
<g id="row39" transform="translate(0,2028)"><g id="n39-1"><use href="#G1" x="51.1"/></g><g id="n39-2"><use href="#G1" x="102.2"/></g><g id="n39-3"><use href="#G1" x="153.3"/></g><g id="n39-4"><use href="#G1" x="204.4"/></g><g id="n39-5"><use href="#R1" x="255.5"/></g><g id="n39-6"><use href="#R1" x="306.6"/></g><g id="n39-7"><use href="#R1" x="357.7"/></g><g id="n39-8"><use href="#R1" x="408.8"/></g></g>
<g id="row40" transform="translate(0,2080)"><g id="n40-1"><use href="#G2" x="51.1"/></g><g id="n40-2"><use href="#G2" x="102.2"/></g><g id="n40-3"><use href="#G2" x="153.3"/></g><g id="n40-4"><use href="#G2" x="204.4"/></g><g id="n40-5"><use href="#R2" x="255.5"/></g><g id="n40-6"><use href="#R2" x="306.6"/></g><g id="n40-7"><use href="#R2" x="357.7"/></g><g id="n40-8"><use href="#R2" x="408.8"/></g></g>
<g id="row41" transform="translate(0,2132)"><g id="n41-1"><use href="#R1" x="51.1"/></g><g id="n41-2"><use href="#D1" x="102.2"/></g><g id="n41-3"><use href="#R1" x="153.3"/></g><g id="n41-4"><use href="#D1" x="204.4"/></g><g id="n41-5"><use href="#Y1" x="255.5"/></g><g id="n41-6"><use href="#Y1" x="306.6"/></g><g id="n41-7"><use href="#Y1" x="357.7"/></g><g id="n41-8"><use href="#Y1" x="408.8"/></g></g>
<g id="row42" transform="translate(0,2184)"><g id="n42-1"><use href="#D2" x="51.1"/></g><g id="n42-2"><use href="#R2" x="102.2"/></g><g id="n42-3"><use href="#D2" x="153.3"/></g><g id="n42-4"><use href="#R2" x="204.4"/></g><g id="n42-5"><use href="#Y2" x="255.5"/></g><g id="n42-6"><use href="#Y2" x="306.6"/></g><g id="n42-7"><use href="#Y2" x="357.7"/></g><g id="n42-8"><use href="#Y2" x="408.8"/></g></g>
<g id="row43" transform="translate(0,2236)"><g id="n43-1"><use href="#R1" x="51.1"/></g><g id="n43-2"><use href="#D1" x="102.2"/></g><g id="n43-3"><use href="#R1" x="153.3"/></g><g id="n43-4"><use href="#D1" x="204.4"/></g><g id="n43-5"><use href="#Y1" x="255.5"/></g><g id="n43-6"><use href="#Y1" x="306.6"/></g><g id="n43-7"><use href="#Y1" x="357.7"/></g><g id="n43-8"><use href="#Y1" x="408.8"/></g></g>
<g id="row44" transform="translate(0,2288)"><g id="n44-1"><use href="#D2" x="51.1"/></g><g id="n44-2"><use href="#R2" x="102.2"/></g><g id="n44-3"><use href="#D2" x="153.3"/></g><g id="n44-4"><use href="#R2" x="204.4"/></g><g id="n44-5"><use href="#Y2" x="255.5"/></g><g id="n44-6"><use href="#Y2" x="306.6"/></g><g id="n44-7"><use href="#Y2" x="357.7"/></g><g id="n44-8"><use href="#Y2" x="408.8"/></g></g>
<g id="row45" transform="translate(0,2340)"><g id="n45-1"><use href="#W1" x="51.1"/></g><g id="n45-2"><use href="#W1" x="102.2"/></g><g id="n45-3"><use href="#W1" x="153.3"/></g><g id="n45-4"><use href="#W1" x="204.4"/></g><g id="n45-5"><use href="#D1" x="255.5"/></g><g id="n45-6"><use href="#D1" x="306.6"/></g><g id="n45-7"><use href="#D1" x="357.7"/></g><g id="n45-8"><use href="#D1" x="408.8"/></g></g>
<g id="row46" transform="translate(0,2392)"><g id="n46-1"><use href="#W2" x="51.1"/></g><g id="n46-2"><use href="#W2" x="102.2"/></g><g id="n46-3"><use href="#W2" x="153.3"/></g><g id="n46-4"><use href="#W2" x="204.4"/></g><g id="n46-5"><use href="#D2" x="255.5"/></g><g id="n46-6"><use href="#D2" x="306.6"/></g><g id="n46-7"><use href="#D2" x="357.7"/></g><g id="n46-8"><use href="#D2" x="408.8"/></g></g>
<g id="row47" transform="translate(0,2444)"><g id="n47-1"><use href="#W1" x="51.1"/></g><g id="n47-2"><use href="#W1" x="102.2"/></g><g id="n47-3"><use href="#W1" x="153.3"/></g><g id="n47-4"><use href="#W1" x="204.4"/></g><g id="n47-5"><use href="#D1" x="255.5"/></g><g id="n47-6"><use href="#D1" x="306.6"/></g><g id="n47-7"><use href="#D1" x="357.7"/></g><g id="n47-8"><use href="#D1" x="408.8"/></g></g>
<g id="row48" transform="translate(0,2496)"><g id="n48-1"><use href="#W2" x="51.1"/></g><g id="n48-2"><use href="#W2" x="102.2"/></g><g id="n48-3"><use href="#W2" x="153.3"/></g><g id="n48-4"><use href="#W2" x="204.4"/></g><g id="n48-5"><use href="#D2" x="255.5"/></g><g id="n48-6"><use href="#D2" x="306.6"/></g><g id="n48-7"><use href="#D2" x="357.7"/></g><g id="n48-8"><use href="#D2" x="408.8"/></g></g>
<g id="row49" transform="translate(0,2548)"><g id="n49-1"><use href="#R1" x="51.1"/></g><g id="n49-2"><use href="#R1" x="102.2"/></g><g id="n49-3"><use href="#R1" x="153.3"/></g><g id="n49-4"><use href="#R1" x="204.4"/></g><g id="n49-5"><use href="#G1" x="255.5"/></g><g id="n49-6"><use href="#G1" x="306.6"/></g><g id="n49-7"><use href="#G1" x="357.7"/></g><g id="n49-8"><use href="#G1" x="408.8"/></g></g>
<g id="row50" transform="translate(0,2600)"><g id="n50-1"><use href="#R2" x="51.1"/></g><g id="n50-2"><use href="#R2" x="102.2"/></g><g id="n50-3"><use href="#R2" x="153.3"/></g><g id="n50-4"><use href="#R2" x="204.4"/></g><g id="n50-5"><use href="#G2" x="255.5"/></g><g id="n50-6"><use href="#G2" x="306.6"/></g><g id="n50-7"><use href="#G2" x="357.7"/></g><g id="n50-8"><use href="#G2" x="408.8"/></g></g>
<g id="row51" transform="translate(0,2652)"><g id="n51-1"><use href="#R1" x="51.1"/></g><g id="n51-2"><use href="#R1" x="102.2"/></g><g id="n51-3"><use href="#R1" x="153.3"/></g><g id="n51-4"><use href="#R1" x="204.4"/></g><g id="n51-5"><use href="#G1" x="255.5"/></g><g id="n51-6"><use href="#G1" x="306.6"/></g><g id="n51-7"><use href="#G1" x="357.7"/></g><g id="n51-8"><use href="#G1" x="408.8"/></g></g>
<g id="row52" transform="translate(0,2704)"><g id="n52-1"><use href="#R2" x="51.1"/></g><g id="n52-2"><use href="#R2" x="102.2"/></g><g id="n52-3"><use href="#R2" x="153.3"/></g><g id="n52-4"><use href="#R2" x="204.4"/></g><g id="n52-5"><use href="#G2" x="255.5"/></g><g id="n52-6"><use href="#G2" x="306.6"/></g><g id="n52-7"><use href="#G2" x="357.7"/></g><g id="n52-8"><use href="#G2" x="408.8"/></g></g>
<g id="row53" transform="translate(0,2756)"><g id="n53-1"><use href="#Y1" x="51.1"/></g><g id="n53-2"><use href="#Y1" x="102.2"/></g><g id="n53-3"><use href="#Y1" x="153.3"/></g><g id="n53-4"><use href="#Y1" x="204.4"/></g><g id="n53-5"><use href="#R1" x="255.5"/></g><g id="n53-6"><use href="#D1" x="306.6"/></g><g id="n53-7"><use href="#R1" x="357.7"/></g><g id="n53-8"><use href="#D1" x="408.8"/></g></g>
<g id="row54" transform="translate(0,2808)"><g id="n54-1"><use href="#Y2" x="51.1"/></g><g id="n54-2"><use href="#Y2" x="102.2"/></g><g id="n54-3"><use href="#Y2" x="153.3"/></g><g id="n54-4"><use href="#Y2" x="204.4"/></g><g id="n54-5"><use href="#D2" x="255.5"/></g><g id="n54-6"><use href="#R2" x="306.6"/></g><g id="n54-7"><use href="#D2" x="357.7"/></g><g id="n54-8"><use href="#R2" x="408.8"/></g></g>
<g id="row55" transform="translate(0,2860)"><g id="n55-1"><use href="#Y1" x="51.1"/></g><g id="n55-2"><use href="#Y1" x="102.2"/></g><g id="n55-3"><use href="#Y1" x="153.3"/></g><g id="n55-4"><use href="#Y1" x="204.4"/></g><g id="n55-5"><use href="#R1" x="255.5"/></g><g id="n55-6"><use href="#D1" x="306.6"/></g><g id="n55-7"><use href="#R1" x="357.7"/></g><g id="n55-8"><use href="#D1" x="408.8"/></g></g>
<g id="row56" transform="translate(0,2912)"><g id="n56-1"><use href="#Y2" x="51.1"/></g><g id="n56-2"><use href="#Y2" x="102.2"/></g><g id="n56-3"><use href="#Y2" x="153.3"/></g><g id="n56-4"><use href="#Y2" x="204.4"/></g><g id="n56-5"><use href="#D2" x="255.5"/></g><g id="n56-6"><use href="#R2" x="306.6"/></g><g id="n56-7"><use href="#D2" x="357.7"/></g><g id="n56-8"><use href="#R2" x="408.8"/></g></g>
<g id="row57" transform="translate(0,2964)"><g id="n57-1"><use href="#D1" x="51.1"/></g><g id="n57-2"><use href="#D1" x="102.2"/></g><g id="n57-3"><use href="#D1" x="153.3"/></g><g id="n57-4"><use href="#D1" x="204.4"/></g><g id="n57-5"><use href="#R1" x="255.5"/></g><g id="n57-6"><use href="#R1" x="306.6"/></g><g id="n57-7"><use href="#R1" x="357.7"/></g><g id="n57-8"><use href="#R1" x="408.8"/></g></g>
<g id="row58" transform="translate(0,3016)"><g id="n58-1"><use href="#D2" x="51.1"/></g><g id="n58-2"><use href="#D2" x="102.2"/></g><g id="n58-3"><use href="#D2" x="153.3"/></g><g id="n58-4"><use href="#D2" x="204.4"/></g><g id="n58-5"><use href="#R2" x="255.5"/></g><g id="n58-6"><use href="#R2" x="306.6"/></g><g id="n58-7"><use href="#R2" x="357.7"/></g><g id="n58-8"><use href="#R2" x="408.8"/></g></g>
<g id="row59" transform="translate(0,3068)"><g id="n59-1"><use href="#D1" x="51.1"/></g><g id="n59-2"><use href="#D1" x="102.2"/></g><g id="n59-3"><use href="#D1" x="153.3"/></g><g id="n59-4"><use href="#D1" x="204.4"/></g><g id="n59-5"><use href="#R1" x="255.5"/></g><g id="n59-6"><use href="#R1" x="306.6"/></g><g id="n59-7"><use href="#R1" x="357.7"/></g><g id="n59-8"><use href="#R1" x="408.8"/></g></g>
<g id="row60" transform="translate(0,3120)"><g id="n60-1"><use href="#D2" x="51.1"/></g><g id="n60-2"><use href="#D2" x="102.2"/></g><g id="n60-3"><use href="#D2" x="153.3"/></g><g id="n60-4"><use href="#D2" x="204.4"/></g><g id="n60-5"><use href="#R2" x="255.5"/></g><g id="n60-6"><use href="#R2" x="306.6"/></g><g id="n60-7"><use href="#R2" x="357.7"/></g><g id="n60-8"><use href="#R2" x="408.8"/></g></g>
</g>
</g>
<text x="261" y="1600.7" text-anchor="middle" font-family="Liberation Sans, Arial, sans-serif" font-weight="bold" font-size="15.5" textLength="152" lengthAdjust="spacingAndGlyphs" fill="#4a4a4a" stroke="#fff" stroke-width="2" paint-order="stroke">BRACELETBOOK.COM</text>
</svg>
